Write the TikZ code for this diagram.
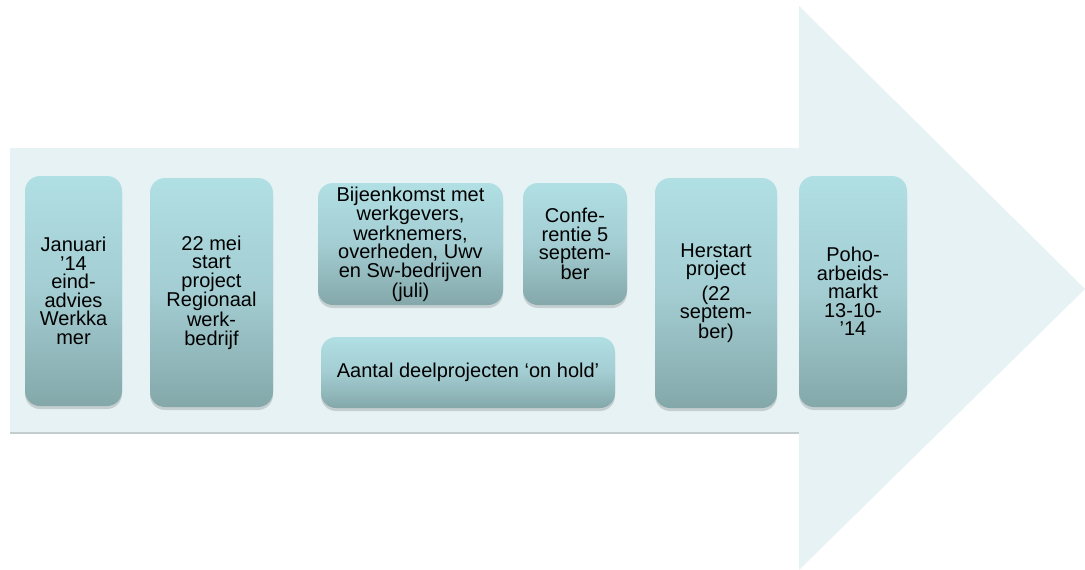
\documentclass[tikz,border=0pt]{standalone}
\usepackage{fontspec}
\setmainfont{Liberation Sans}
\usetikzlibrary{shadows}
\definecolor{arrowfill}{HTML}{E6F2F4}
\definecolor{boxtop}{HTML}{B0DFE4}
\definecolor{boxmid}{HTML}{A3CDD2}
\definecolor{boxbot}{HTML}{84A8AA}
\definecolor{shaftline}{HTML}{C4CCCE}
\tikzset{
  stagebox/.style={rounded corners=15pt, top color=boxtop, bottom color=boxbot,
    middle color=boxmid, draw=none, align=center, inner sep=2pt,
    font=\fontsize{20}{18.5}\selectfont, text=black,
    drop shadow={shadow xshift=0pt, shadow yshift=-3pt, opacity=0.25, fill=black!60}},
}
\begin{document}
\begin{tikzpicture}[x=1pt,y=-1pt]
\useasboundingbox (0,0) rectangle (1085,570);
\fill[arrowfill] (10,148) -- (799,148) -- (799,6) -- (1085,289) -- (799,570) -- (799,433) -- (10,433) -- cycle;
\draw[shaftline, line width=1.5pt] (10,433) -- (799,433);

\node[stagebox, minimum width=97pt, minimum height=230pt] (jan) at (73.5,291)
  {Januari\\’14\\eind-\\advies\\Werkka\\mer};
\node[stagebox, minimum width=123pt, minimum height=229pt] (mei) at (211.5,292.5)
  {22 mei\\start\\project\\Regionaal\\werk-\\bedrijf};
\node[stagebox, minimum width=185pt, minimum height=122pt] (bij) at (410.5,244)
  {Bijeenkomst met\\werkgevers,\\werknemers,\\overheden, Uwv\\en Sw-bedrijven\\(juli)};
\node[stagebox, minimum width=104pt, minimum height=122pt] (conf) at (575,244)
  {Confe-\\rentie 5\\septem-\\ber};
\node[stagebox, minimum width=294pt, minimum height=71pt] (hold) at (468,372.5)
  {Aantal deelprojecten ‘on hold’};
\node[stagebox, minimum width=122pt, minimum height=230pt] (her) at (716,293)
  {Herstart\\project\\[5pt](22\\septem-\\ber)};
\node[stagebox, minimum width=108pt, minimum height=231pt] (poho) at (853,291.5)
  {Poho-\\arbeids-\\markt\\13-10-\\’14};
\end{tikzpicture}
\end{document}
